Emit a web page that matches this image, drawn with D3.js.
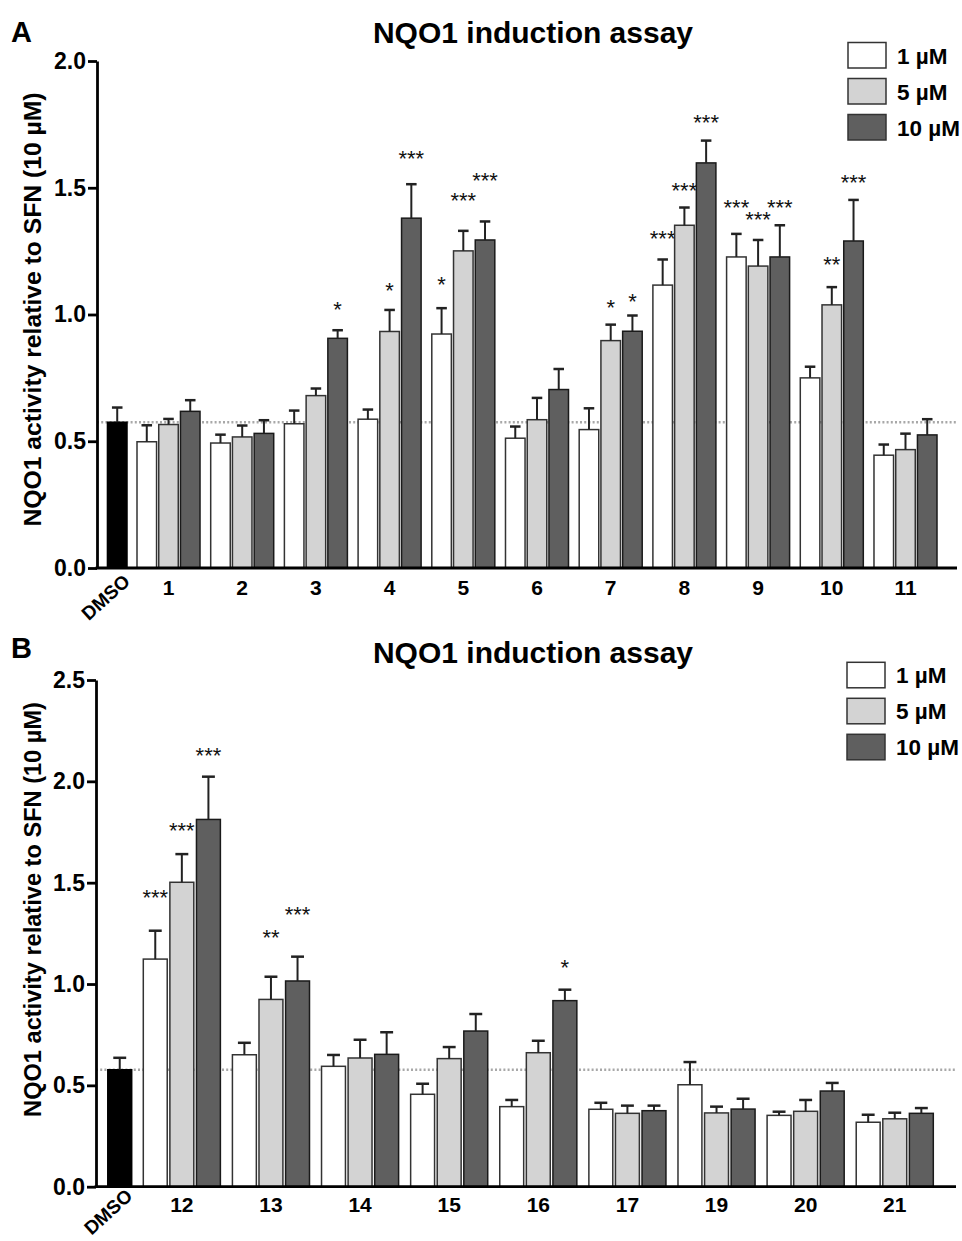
<!DOCTYPE html>
<html>
<head>
<meta charset="utf-8">
<script src="https://cdn.jsdelivr.net/npm/d3@7"></script>
<style>
  html, body { margin: 0; padding: 0; background: #fff; }
  svg { display: block; }
  text { font-family: Arial, "Liberation Sans", Helvetica, sans-serif; }
</style>
</head>
<body>
<svg id="chart" width="962" height="1241"></svg>
<script>
// ---------------- DATA ----------------
const doseLabels = ["1 \u00B5M", "5 \u00B5M", "10 \u00B5M"];
const titleText = "NQO1 induction assay";
const yLabelText = "NQO1 activity relative to SFN (10 \u00B5M)";

// Panel A
const catsA = ["1", "2", "3", "4", "5", "6", "7", "8", "9", "10", "11"];
const dmsoA = { mean: 0.575, err: 0.058 };
const meanA_1 = [0.498, 0.493, 0.569, 0.587, 0.923, 0.512, 0.546, 1.116, 1.227, 0.750, 0.445];
const meanA_5 = [0.566, 0.517, 0.680, 0.933, 1.251, 0.585, 0.897, 1.352, 1.191, 1.038, 0.467];
const meanA_10 = [0.618, 0.531, 0.906, 1.380, 1.294, 0.704, 0.934, 1.598, 1.227, 1.290, 0.525];
const errA_1 = [0.065, 0.033, 0.052, 0.038, 0.102, 0.046, 0.084, 0.101, 0.091, 0.044, 0.042];
const errA_5 = [0.022, 0.045, 0.028, 0.085, 0.079, 0.086, 0.063, 0.070, 0.103, 0.070, 0.063];
const errA_10 = [0.044, 0.052, 0.032, 0.134, 0.073, 0.081, 0.062, 0.088, 0.125, 0.162, 0.062];
const sigA_1 = ["", "", "", "", "*", "", "", "***", "***", "", ""];
const sigA_5 = ["", "", "", "*", "***", "", "*", "***", "***", "**", ""];
const sigA_10 = ["", "", "*", "***", "***", "", "*", "***", "***", "***", ""];
const sigLevelA_1 = [0, 0, 0, 0, 1.140, 0, 0, 1.323, 1.444, 0, 0];
const sigLevelA_5 = [0, 0, 0, 1.117, 1.472, 0, 1.051, 1.511, 1.398, 1.217, 0];
const sigLevelA_10 = [0, 0, 1.042, 1.638, 1.551, 0, 1.073, 1.779, 1.444, 1.544, 0];
const ticksA = [0, 0.5, 1.0, 1.5, 2.0];

// Panel B
const catsB = ["12", "13", "14", "15", "16", "17", "19", "20", "21"];
const dmsoB = { mean: 0.577, err: 0.059 };
const meanB_1 = [1.123, 0.651, 0.594, 0.456, 0.395, 0.382, 0.503, 0.352, 0.318];
const meanB_5 = [1.502, 0.924, 0.635, 0.632, 0.661, 0.362, 0.364, 0.372, 0.335];
const meanB_10 = [1.812, 1.015, 0.653, 0.768, 0.918, 0.375, 0.383, 0.472, 0.362];
const errB_1 = [0.140, 0.059, 0.056, 0.052, 0.033, 0.032, 0.112, 0.018, 0.037];
const errB_5 = [0.139, 0.112, 0.090, 0.057, 0.059, 0.038, 0.031, 0.056, 0.030];
const errB_10 = [0.211, 0.120, 0.109, 0.084, 0.054, 0.025, 0.051, 0.040, 0.026];
const sigB_1 = ["***", "", "", "", "", "", "", "", ""];
const sigB_5 = ["***", "**", "", "", "", "", "", "", ""];
const sigB_10 = ["***", "***", "", "", "*", "", "", "", ""];
const sigLevelB_1 = [1.452, 0, 0, 0, 0, 0, 0, 0, 0];
const sigLevelB_5 = [1.784, 1.258, 0, 0, 0, 0, 0, 0, 0];
const sigLevelB_10 = [2.154, 1.369, 0, 0, 1.110, 0, 0, 0, 0];
const ticksB = [0, 0.5, 1.0, 1.5, 2.0, 2.5];

// ---------------- STYLE ----------------
const fills = ["#ffffff", "#d3d3d3", "#5f5f5f"];
const dmsoFill = "#000000";

const svg = d3.select("#chart");

function drawPanel(cfg) {
  const g = svg.append("g");
  const y = d3.scaleLinear().domain([0, cfg.yMax]).range([cfg.y0, cfg.yTop]);
  const x0 = d3.scaleBand().domain(cfg.cats).range(cfg.groupRange).paddingInner(cfg.groupPad).paddingOuter(0);
  const x1 = d3.scaleBand().domain([0, 1, 2]).range([0, x0.bandwidth()]).paddingInner(0.1);
  const bw = x1.bandwidth();
  const dmsoX = cfg.groupRange[0] - cfg.dmsoGap - bw;

  // reference dotted line (DMSO level)
  g.append("line")
    .attr("x1", cfg.axisX).attr("x2", cfg.axisEnd)
    .attr("y1", y(cfg.dmso.mean)).attr("y2", y(cfg.dmso.mean))
    .attr("stroke", "#a8a8a8").attr("stroke-width", 2.5)
    .attr("stroke-dasharray", "2,2.2");

  function errBar(cx, m, e) {
    g.append("line").attr("x1", cx).attr("x2", cx)
      .attr("y1", y(m)).attr("y2", y(m + e))
      .attr("stroke", "#222").attr("stroke-width", 2);
    g.append("line").attr("x1", cx - bw * 0.27).attr("x2", cx + bw * 0.27)
      .attr("y1", y(m + e)).attr("y2", y(m + e))
      .attr("stroke", "#222").attr("stroke-width", 2.5);
  }

  // DMSO bar
  g.append("rect")
    .attr("x", dmsoX).attr("width", bw)
    .attr("y", y(cfg.dmso.mean)).attr("height", y(0) - y(cfg.dmso.mean))
    .attr("fill", dmsoFill).attr("stroke", "#000").attr("stroke-width", 1.5);
  errBar(dmsoX + bw / 2, cfg.dmso.mean, cfg.dmso.err);

  // grouped bars
  cfg.means.forEach((arr, d) => {
    const rows = cfg.cats.map((c, i) => ({ c, m: arr[i], e: cfg.errs[d][i], s: cfg.sigs[d][i], l: cfg.levels[d][i] }));
    g.selectAll(null).data(rows).enter().append("rect")
      .attr("x", r => x0(r.c) + x1(d)).attr("width", bw)
      .attr("y", r => y(r.m)).attr("height", r => y(0) - y(r.m))
      .attr("fill", fills[d]).attr("stroke", d === 2 ? "#1a1a1a" : "#333").attr("stroke-width", 1.5);
    rows.forEach(r => errBar(x0(r.c) + x1(d) + bw / 2, r.m, r.e));
    g.selectAll(null).data(rows.filter(r => r.s)).enter().append("text")
      .attr("x", r => x0(r.c) + x1(d) + bw / 2)
      .attr("y", r => y(r.l) + 13)
      .attr("text-anchor", "middle")
      .attr("font-size", 22).attr("fill", "#111")
      .text(r => r.s);
  });

  // y axis
  const yAxis = d3.axisLeft(y).tickValues(cfg.ticks).tickFormat(d3.format(".1f"))
    .tickSize(9).tickSizeOuter(0).tickPadding(2);
  const ya = g.append("g").attr("transform", `translate(${cfg.axisX},0)`).call(yAxis);
  ya.select(".domain").attr("stroke", "#000").attr("stroke-width", 2.8);
  ya.selectAll(".tick line").attr("stroke", "#000").attr("stroke-width", 2.8);
  ya.selectAll(".tick text").attr("font-size", 23).attr("font-weight", "bold").attr("fill", "#000")
    .attr("font-family", "Arial, 'Liberation Sans', sans-serif");

  // x axis line
  g.append("line").attr("x1", cfg.axisX - 1.4).attr("x2", cfg.axisEnd)
    .attr("y1", y(0)).attr("y2", y(0)).attr("stroke", "#000").attr("stroke-width", 2.8);

  // x labels
  const xAxis = d3.axisBottom(x0).tickSize(0).tickPadding(0);
  const xa = g.append("g").attr("transform", `translate(0,${y(0)})`).call(xAxis);
  xa.select(".domain").remove();
  xa.selectAll(".tick text").attr("font-size", 21).attr("font-weight", "bold").attr("fill", "#000")
    .attr("dy", null).attr("y", cfg.xLabelDy)
    .attr("font-family", "Arial, 'Liberation Sans', sans-serif");

  // DMSO label
  g.append("text")
    .attr("transform", `translate(${dmsoX + bw / 2 + 14},${y(0) + cfg.dmsoLabelDy}) rotate(-42)`)
    .attr("text-anchor", "end").attr("font-size", 19).attr("font-weight", "bold")
    .text("DMSO");

  // y label
  g.append("text")
    .attr("transform", `translate(${cfg.yLabelX},${cfg.yLabelY}) rotate(-90)`)
    .attr("text-anchor", "middle").attr("font-size", cfg.yLabelSize).attr("font-weight", "bold")
    .text(yLabelText);

  // title
  g.append("text").attr("x", 533).attr("y", cfg.titleY)
    .attr("text-anchor", "middle").attr("font-size", 30).attr("font-weight", "bold")
    .text(titleText);

  // panel letter
  g.append("text").attr("x", 11).attr("y", cfg.letterY)
    .attr("font-family", "'DejaVu Sans', Verdana, sans-serif")
    .attr("font-size", 29).attr("font-weight", "bold")
    .text(cfg.letter);

  // legend
  const lg = g.append("g").attr("transform", `translate(${cfg.legendX},${cfg.legendTop})`);
  doseLabels.forEach((lab, i) => {
    lg.append("rect").attr("x", 0).attr("y", i * 36).attr("width", 38).attr("height", 25.5)
      .attr("fill", fills[i]).attr("stroke", "#333").attr("stroke-width", 1.5);
    lg.append("text").attr("x", 49).attr("y", i * 36 + 21)
      .attr("font-size", 22.5).attr("font-weight", "bold").text(lab);
  });
}

drawPanel({
  letter: "A", letterY: 42, titleY: 43,
  cats: catsA, dmso: dmsoA,
  means: [meanA_1, meanA_5, meanA_10], errs: [errA_1, errA_5, errA_10],
  sigs: [sigA_1, sigA_5, sigA_10], levels: [sigLevelA_1, sigLevelA_5, sigLevelA_10],
  ticks: ticksA, yMax: 2.0, y0: 568, yTop: 61,
  groupRange: [137, 937], groupPad: 0.145, dmsoGap: 10,
  axisX: 97, axisEnd: 957, xLabelDy: 27, dmsoLabelDy: 15,
  yLabelX: 41, yLabelY: 309.5, yLabelSize: 24.7,
  legendX: 848, legendTop: 42.5
});

drawPanel({
  letter: "B", letterY: 658, titleY: 663,
  cats: catsB, dmso: dmsoB,
  means: [meanB_1, meanB_5, meanB_10], errs: [errB_1, errB_5, errB_10],
  sigs: [sigB_1, sigB_5, sigB_10], levels: [sigLevelB_1, sigLevelB_5, sigLevelB_10],
  ticks: ticksB, yMax: 2.5, y0: 1186.7, yTop: 680,
  groupRange: [143.3, 933.3], groupPad: 0.135, dmsoGap: 11.6,
  axisX: 96, axisEnd: 956, xLabelDy: 25, dmsoLabelDy: 11,
  yLabelX: 41, yLabelY: 909.5, yLabelSize: 23.6,
  legendX: 847, legendTop: 662.3
});
</script>
</body>
</html>
